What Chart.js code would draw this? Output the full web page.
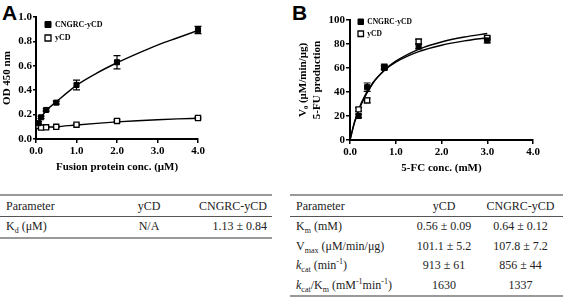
<!DOCTYPE html>
<html>
<head>
<meta charset="utf-8">
<script src="https://cdn.jsdelivr.net/npm/chart.js@4.4.0/dist/chart.umd.min.js"></script>
<style>
  body { margin: 0; background: #fff; width: 567px; height: 302px; position: relative; overflow: hidden; }
  .panel-label { position: absolute; font: bold 21px "Liberation Sans", Arial, sans-serif; line-height: 1; color: #000; }
  canvas { position: absolute; top: 0; }
  .tbl { position: absolute; border-collapse: collapse; font: 12px "Liberation Serif", "Times New Roman", serif; color: #222;
         border-top: 2px solid #999; border-bottom: 2px solid #999; }
  .tbl td { padding: 0; height: 19.5px; white-space: nowrap; }
  .tbl tr.hd td { height: 20px; border-bottom: 1px solid #555; }
  .tbl td.c1 { text-align: left; padding-left: 6px; }
  .tbl td.c2 { text-align: center; }
  .tbl td.c3 { text-align: center; }
  .tbl sub, .tbl sup { font-size: 8px; line-height: 0; }
</style>
</head>
<body>
<div class="panel-label" style="left:2px;top:1.5px">A</div>
<div class="panel-label" style="left:292px;top:1.5px">B</div>
<canvas id="chartA" width="215" height="180" style="left:0"></canvas>
<canvas id="chartB" width="260" height="180" style="left:290px"></canvas>

<table class="tbl" style="left:0;top:194px;width:272px">
  <colgroup><col style="width:118px"><col style="width:62px"><col style="width:92px"></colgroup>
  <tr class="hd"><td class="c1">Parameter</td><td class="c2">yCD</td><td class="c3" style="text-align:right;padding-right:5px">CNGRC-yCD</td></tr>
  <tr><td class="c1">K<sub>d</sub> (μM)</td><td class="c2">N/A</td><td class="c3" style="text-align:right;padding-right:5px">1.13 ± 0.84</td></tr>
</table>

<table class="tbl" style="left:290px;top:194px;width:273px">
  <colgroup><col style="width:120px"><col style="width:68px"><col style="width:85px"></colgroup>
  <tr class="hd"><td class="c1">Parameter</td><td class="c2">yCD</td><td class="c3">CNGRC-yCD</td></tr>
  <tr><td class="c1">K<sub>m</sub> (mM)</td><td class="c2">0.56 ± 0.09</td><td class="c3">0.64 ± 0.12</td></tr>
  <tr><td class="c1">V<sub>max</sub> (μM/min/μg)</td><td class="c2">101.1 ± 5.2</td><td class="c3">107.8 ± 7.2</td></tr>
  <tr><td class="c1"><i>k</i><sub>cat</sub> (min<sup>-1</sup>)</td><td class="c2">913 ± 61</td><td class="c3">856 ± 44</td></tr>
  <tr><td class="c1"><i>k</i><sub>cat</sub>/K<sub>m</sub> (mM<sup>-1</sup>min<sup>-1</sup>)</td><td class="c2">1630</td><td class="c3">1337</td></tr>
</table>

<script>
// Panel A: OD 450 vs fusion protein conc. (uM)
const concA = [0.0625, 0.125, 0.25, 0.5, 1.0, 2.0, 4.0];
const odCngrc = [0.13, 0.178, 0.238, 0.298, 0.443, 0.629, 0.893];
const odCngrcErr = [0.012, 0.01, 0.01, 0.012, 0.04, 0.055, 0.03];
const odYcd = [0.107, 0.094, 0.096, 0.10, 0.117, 0.148, 0.172];
const odYcdErr = [0.01, 0.005, 0.005, 0.005, 0.008, 0.008, 0.008];
// fitted curves
const fitXA = [0.0625, 0.125, 0.25, 0.5, 1.0, 1.5, 2.0, 2.5, 3.0, 3.5, 4.0];
const fitCngrcA = [0.13, 0.175, 0.232, 0.305, 0.44, 0.54, 0.625, 0.70, 0.77, 0.83, 0.89];
const fitYcdA = [0.097, 0.097, 0.098, 0.101, 0.115, 0.128, 0.14, 0.15, 0.158, 0.165, 0.17];

// Panel B: V0 vs 5-FC conc. (mM)
const concB = [0.1875, 0.375, 0.75, 1.5, 3.0];
const v0Cngrc = [20, 44, 60, 78, 83];
const v0CngrcErr = [1.5, 3.5, 1.5, 2, 2];
const v0Ycd = [25.5, 33, 61, 82, 85];
const v0YcdErr = [1.5, 2, 1.5, 2, 1.5];
const fitXB = [0, 0.1, 0.25, 0.5, 0.75, 1.0, 1.5, 2.0, 2.5, 3.0];
const fitCngrcB = [0, 14.6, 30, 47.3, 58.2, 65.7, 75.6, 81.7, 85.8, 88.8];
const fitYcdB = [0, 15.3, 31.2, 47.7, 57.9, 64.8, 73.6, 79, 82.6, 85.2];

const seriesNames = ["CNGRC-yCD", "yCD"];
const xTicks = [0, 1, 2, 3, 4];

const serif = "'Liberation Serif', 'Times New Roman', serif";
const bold = (size) => ({ family: serif, size: size, weight: "bold" });

function toXY(xs, ys) {
  return xs.map((x, i) => ({ x: x, y: ys[i] }));
}

// draws vertical error bars with caps, under the markers
const errorBars = {
  id: "errorBars",
  beforeDatasetsDraw(chart) {
    const ctx = chart.ctx;
    const xs = chart.scales.x;
    const ys = chart.scales.y;
    chart.data.datasets.forEach((ds) => {
      if (!ds.errors) return;
      ctx.save();
      ctx.strokeStyle = "#000";
      ctx.lineWidth = 1.2;
      ds.data.forEach((p, i) => {
        const e = ds.errors[i];
        const px = xs.getPixelForValue(p.x);
        const top = ys.getPixelForValue(p.y + e);
        const bot = ys.getPixelForValue(p.y - e);
        ctx.beginPath();
        ctx.moveTo(px, top); ctx.lineTo(px, bot);
        ctx.moveTo(px - 3.5, top); ctx.lineTo(px + 3.5, top);
        ctx.moveTo(px - 3.5, bot); ctx.lineTo(px + 3.5, bot);
        ctx.stroke();
      });
      ctx.restore();
    });
  },
};

// put the in-chart legend at the top-left of the plot area
const legendNudge = {
  id: "legendNudge",
  afterLayout(chart, args, opts) {
    const lg = chart.legend;
    if (!lg) return;
    const w = lg.right - lg.left;
    const h = lg.bottom - lg.top;
    lg.left = chart.chartArea.left + opts.dx;
    lg.top = chart.chartArea.top + opts.dy;
    lg.right = lg.left + w;
    lg.bottom = lg.top + h;
  },
};

function datasets(xs, a, aErr, b, bErr, fitX, fitA, fitB, size) {
  return [
    { label: seriesNames[0], data: toXY(xs, a), errors: aErr, pointStyle: "rect", pointRadius: size, clip: false,
      pointBackgroundColor: "#000", pointBorderColor: "#000", pointBorderWidth: 1, showLine: false },
    { label: seriesNames[1], data: toXY(xs, b), errors: bErr, pointStyle: "rect", pointRadius: size, clip: false,
      pointBackgroundColor: "#fff", pointBorderColor: "#000", pointBorderWidth: 1.3, showLine: false },
    { label: "fit1", data: toXY(fitX, fitA), showLine: true, pointRadius: 0, borderColor: "#000",
      borderWidth: 1.4, cubicInterpolationMode: "monotone" },
    { label: "fit2", data: toXY(fitX, fitB), showLine: true, pointRadius: 0, borderColor: "#000",
      borderWidth: 1.4, cubicInterpolationMode: "monotone" },
  ];
}

function makeOptions(cfg) {
  return {
    responsive: false,
    animation: false,
    layout: { padding: cfg.padding },
    plugins: {
      tooltip: { enabled: false },
      legendNudge: cfg.nudge,
      legend: {
        position: "chartArea",
        align: "start",
        labels: {
          usePointStyle: true,
          boxWidth: cfg.box, boxHeight: cfg.box,
          padding: cfg.legendPad,
          textAlign: "left",
          color: "#000",
          font: bold(cfg.legendFont),
          filter: (item) => item.datasetIndex < 2,
        },
      },
    },
    scales: {
      x: {
        type: "linear", min: 0, max: 4,
        afterBuildTicks: (s) => { s.ticks = xTicks.map((v) => ({ value: v })); },
        ticks: { callback: (v) => Number(v).toFixed(1), font: bold(11), color: "#000", padding: 2, maxRotation: 0, autoSkip: false },
        grid: { drawOnChartArea: false, drawTicks: true, tickLength: 4, color: "#000", lineWidth: 1.5 },
        border: { display: true, color: "#000", width: 2 },
        title: { display: true, text: cfg.xTitle, font: bold(11), color: "#000", padding: { top: 0, bottom: cfg.xTitlePad } },
        afterFit: (s) => { s.height = cfg.xHeight; },
      },
      y: {
        type: "linear", min: cfg.yMin, max: cfg.yMax,
        ticks: { stepSize: cfg.yStep, callback: cfg.yFmt, font: bold(11), color: "#000", padding: 1 },
        grid: { drawOnChartArea: false, drawTicks: true, tickLength: cfg.yTick, color: "#000", lineWidth: 1.5 },
        border: { display: true, color: "#000", width: 2 },
        title: { display: true, text: cfg.yTitle, font: { family: serif, size: 11, weight: "bold", lineHeight: 1.27 }, color: "#000",
                 padding: { top: cfg.yTitlePad, bottom: 0 } },
        afterFit: (s) => { s.width = cfg.yWidth; },
      },
    },
  };
}

new Chart(document.getElementById("chartA"), {
  type: "scatter",
  data: { datasets: datasets(concA, odCngrc, odCngrcErr, odYcd, odYcdErr, fitXA, fitCngrcA, fitYcdA, 3.6) },
  options: makeOptions({
    padding: { left: 0, top: 17, right: 17, bottom: 0 },
    nudge: { dx: 3.5, dy: -2 },
    box: 6, legendPad: 5.5, legendFont: 8,
    xTitle: "Fusion protein conc. (μM)", xTitlePad: 6, xHeight: 41,
    yMin: 0, yMax: 1, yStep: 0.2, yFmt: (v) => Number(v).toFixed(1), yTick: 3,
    yTitle: "OD 450 nm", yTitlePad: 0, yWidth: 36,
  }),
  plugins: [errorBars, legendNudge],
});

new Chart(document.getElementById("chartB"), {
  type: "scatter",
  data: { datasets: datasets(concB, v0Cngrc, v0CngrcErr, v0Ycd, v0YcdErr, fitXB, fitCngrcB, fitYcdB, 3.6) },
  options: makeOptions({
    padding: { left: 0, top: 20, right: 17, bottom: 0 },
    nudge: { dx: 3.5, dy: -6.5 },
    box: 5.5, legendPad: 4.5, legendFont: 7.5,
    xTitle: "5-FC conc. (mM)", xTitlePad: 5, xHeight: 40,
    yMin: 0, yMax: 100, yStep: 20, yFmt: (v) => String(v), yTick: 4,
    yTitle: ["V₀ (μM/min/μg)", "5-FU production"], yTitlePad: 6, yWidth: 60,
  }),
  plugins: [errorBars, legendNudge],
});
</script>
</body>
</html>
